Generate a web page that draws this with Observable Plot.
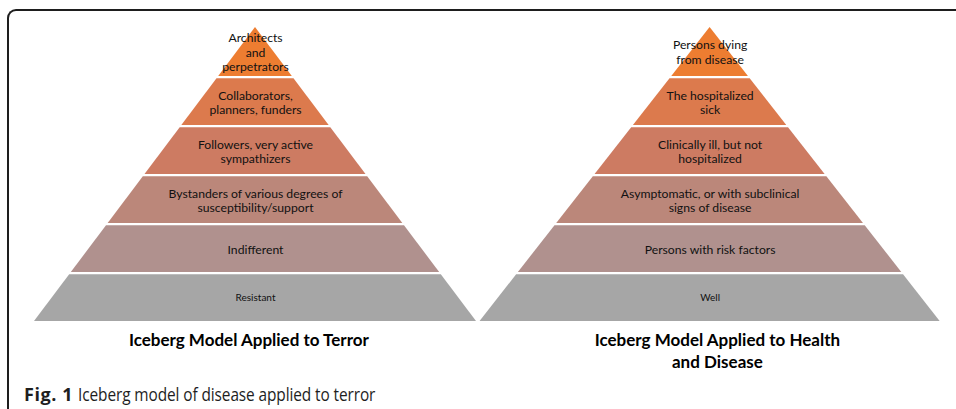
<!DOCTYPE html>
<html>
<head>
<meta charset="utf-8">
<script src="https://cdn.jsdelivr.net/npm/d3@7"></script>
<script src="https://cdn.jsdelivr.net/npm/@observablehq/plot@0.6"></script>
<style>
  html, body { margin: 0; padding: 0; background: #fff; }
  #wrap { position: relative; width: 956px; height: 409px; overflow: hidden; }
  #frame { position: absolute; left: 7px; top: 9px; width: 1200px; height: 800px;
           border-top: 2px solid #1e1e1e; border-left: 2px solid #1e1e1e; border-top-left-radius: 9px; }
  #chart { position: absolute; left: 0; top: 0; }
  #caption { position: absolute; left: 24px; top: 382px; font-family: "Open Sans", sans-serif;
             font-size: 18px; color: #1e1e1e; white-space: nowrap; }
  #caption b { font-weight: 700; letter-spacing: 0.6px; }
  #caption span { display: inline-block; transform: scaleX(0.855); transform-origin: 0 0; letter-spacing: -0.1px; }
</style>
</head>
<body>
<div id="wrap">
  <div id="frame"></div>
  <div id="chart"></div>
  <div id="caption"><b>Fig. 1</b> <span>Iceberg model of disease applied to terror</span></div>
</div>
<script>
// ---- data (top layer first) ----
const terrorLayers = [
  "Architects\nand\nperpetrators",
  "Collaborators,\nplanners, funders",
  "Followers, very active\nsympathizers",
  "Bystanders of various degrees of\nsusceptibility/support",
  "Indifferent",
  "Resistant"
];
const healthLayers = [
  "Persons dying\nfrom disease",
  "The hospitalized\nsick",
  "Clinically ill, but not\nhospitalized",
  "Asymptomatic, or with subclinical\nsigns of disease",
  "Persons with risk factors",
  "Well"
];
const pyramidTitles = [
  "Iceberg Model Applied to Terror",
  "Iceberg Model Applied to Health\nand Disease"
];
const layerColors = ["#ED7D31", "#DC7A4D", "#CD7B62", "#BB877A", "#B0918E", "#A6A6A6"];

// ---- layout constants (x units: left pyramid base half-width = 1) ----
const pyramids = [terrorLayers, healthLayers];
const centers = [0, 2.057];
const halfWidths = [1, 1.041];
const titleShift = [-0.03, 0.033];
const nLevels = terrorLayers.length;
const gap = 0.045;

const bandPts = [];
const labels = [];
pyramids.forEach((layers, p) => {
  layers.forEach((name, k) => {
    const yTop = nLevels - k - (k === 0 ? 0 : gap);
    const yBot = nLevels - k - 1;
    const hw = y => halfWidths[p] * (nLevels - y) / nLevels;
    const key = p + "-" + k;
    for (const y of [yBot, yTop]) {
      bandPts.push({key, level: k, y, x1: centers[p] - hw(y), x2: centers[p] + hw(y)});
    }
    labels.push({x: centers[p], y: (yTop + yBot) / 2, text: name, level: k, p});
  });
});
const titles = pyramidTitles.map((t, p) => ({x: centers[p] + titleShift[p], y: 0, text: t}));

const s = 221; // px per x unit
const chart = Plot.plot({
  width: 956,
  height: 409,
  marginLeft: 0, marginRight: 0, marginTop: 27, marginBottom: 88,
  x: {domain: [-255 / s, (956 - 255) / s], axis: null},
  y: {domain: [0, nLevels], axis: null},
  color: {domain: d3.range(nLevels), range: layerColors},
  style: {fontFamily: "Lato, sans-serif", background: "transparent", color: "#111"},
  marks: [
    Plot.areaX(bandPts, {y: "y", x1: "x1", x2: "x2", z: "key", fill: "level"}),
    Plot.text(labels.filter(d => d.level < nLevels - 1), {
      x: "x", y: "y", text: "text", fontSize: 12.2, lineHeight: 1.17, fill: "#111"
    }),
    Plot.text(labels.filter(d => d.level === nLevels - 1), {
      x: "x", y: "y", text: "text", fontSize: 10, fill: "#111"
    }),
    Plot.text(titles, {
      x: "x", y: "y", text: "text", fontSize: 17, fontWeight: "bold", lineAnchor: "top",
      dy: 9, lineHeight: 1.28, fill: "#000"
    })
  ]
});
document.getElementById("chart").appendChild(chart);
</script>
</body>
</html>
